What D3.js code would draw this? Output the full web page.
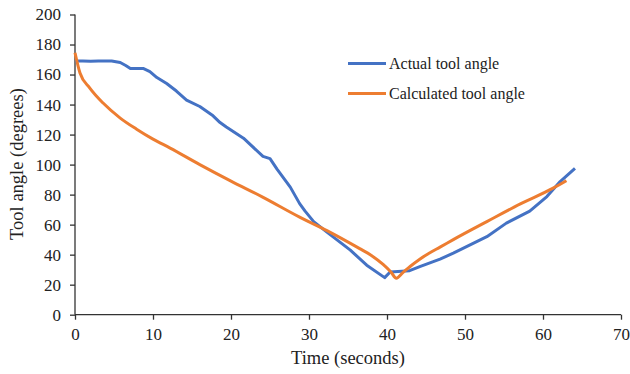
<!DOCTYPE html>
<html><head><meta charset="utf-8">
<script src="https://cdn.jsdelivr.net/npm/d3@7"></script>
<style>body{margin:0;background:#fff}svg{display:block}text{font-family:"Liberation Serif","Times New Roman",serif;fill:#222}</style>
</head><body><svg id="c" width="630" height="374"></svg>
<script>
const xTicks=[0,10,20,30,40,50,60,70];
const yTicks=[0,20,40,60,80,100,120,140,160,180,200];
const actualT=[0,1,2,3,4,4.7,5.8,6.5,7.1,8.8,9.6,10.5,11.75,13,14.3,16,17.7,18.6,19.4,21.6,24.1,25,25.9,27.6,28.8,29.5,30.6,32.3,35.3,37.4,39.7,40.4,42.9,44.2,46.8,48.5,52.8,55.3,58.3,60.5,62.2,64.1];
const actualV=[169,169,168.8,169,169,169,168,166,164,164,162,158,154,149,143,138.7,132.5,128,125,117.6,105.5,104,97,85,74,69,62,55,43,33,24.7,28.5,29.3,32,37,41,52,61,69,78.7,88.7,97.5];
const calcT=[0,0.64,1.9,3.6,5.8,7.9,10,12.2,16,20,24,28.8,32.3,36.5,38,39.5,40.5,41.2,42,43,44.2,45.5,46.8,48.5,52.8,57.1,61.3,63];
const calcV=[174.5,161,151,141,131,123.6,117,111,100,89,78.5,65,56,44,39.5,33.5,28.5,24.3,27.8,32.3,37,41.3,45,50,62,73.8,84.3,89.3];
const seriesNames=["Actual tool angle","Calculated tool angle"];
const colors=["#4472C4","#ED7D31"];

const svg=d3.select("#c");
const x=d3.scaleLinear().domain([0,70]).range([75,621]);
const y=d3.scaleLinear().domain([0,200]).range([314.7,14.5]);

const xa=svg.append("g").attr("transform","translate(0,314.7)")
 .call(d3.axisBottom(x).tickValues(xTicks).tickSize(5).tickPadding(8).tickFormat(d3.format("d")));
const ya=svg.append("g").attr("transform","translate(75,0)")
 .call(d3.axisLeft(y).tickValues(yTicks).tickSize(5).tickPadding(9).tickFormat(d3.format("d")));
[xa,ya].forEach(a=>{a.attr("font-family",null);a.selectAll("path,line").attr("stroke","#333").attr("stroke-width",1.3);
 a.selectAll("text").attr("font-size",17).attr("fill","#222");});
xa.select(".domain").attr("d","M75,0H621");
ya.select(".domain").attr("d","M0,14.5V314.7");

const d1=actualT.map((t,i)=>[t,actualV[i]]);
const d2=calcT.map((t,i)=>[t,calcV[i]]);
svg.append("path").datum(d1).attr("fill","none").attr("stroke",colors[0]).attr("stroke-width",3).attr("stroke-linejoin","round")
 .attr("d",d3.line().x(d=>x(d[0])).y(d=>y(d[1])));
svg.append("path").datum(d2).attr("fill","none").attr("stroke",colors[1]).attr("stroke-width",3).attr("stroke-linejoin","round")
 .attr("d",d3.line().curve(d3.curveMonotoneX).x(d=>x(d[0])).y(d=>y(d[1])));

const lg=svg.append("g");
seriesNames.forEach((n,i)=>{
 const yy=63.5+i*30;
 lg.append("line").attr("x1",348).attr("x2",386).attr("y1",yy).attr("y2",yy).attr("stroke",colors[i]).attr("stroke-width",3);
 lg.append("text").attr("x",389).attr("y",yy+5.5).attr("font-size",16).text(n);
});

svg.append("text").attr("x",348).attr("y",364).attr("text-anchor","middle").attr("font-size",18.5).text("Time (seconds)");
svg.append("text").attr("transform","translate(23,164) rotate(-90)").attr("text-anchor","middle").attr("font-size",18.5).text("Tool angle (degrees)");
</script></body></html>
